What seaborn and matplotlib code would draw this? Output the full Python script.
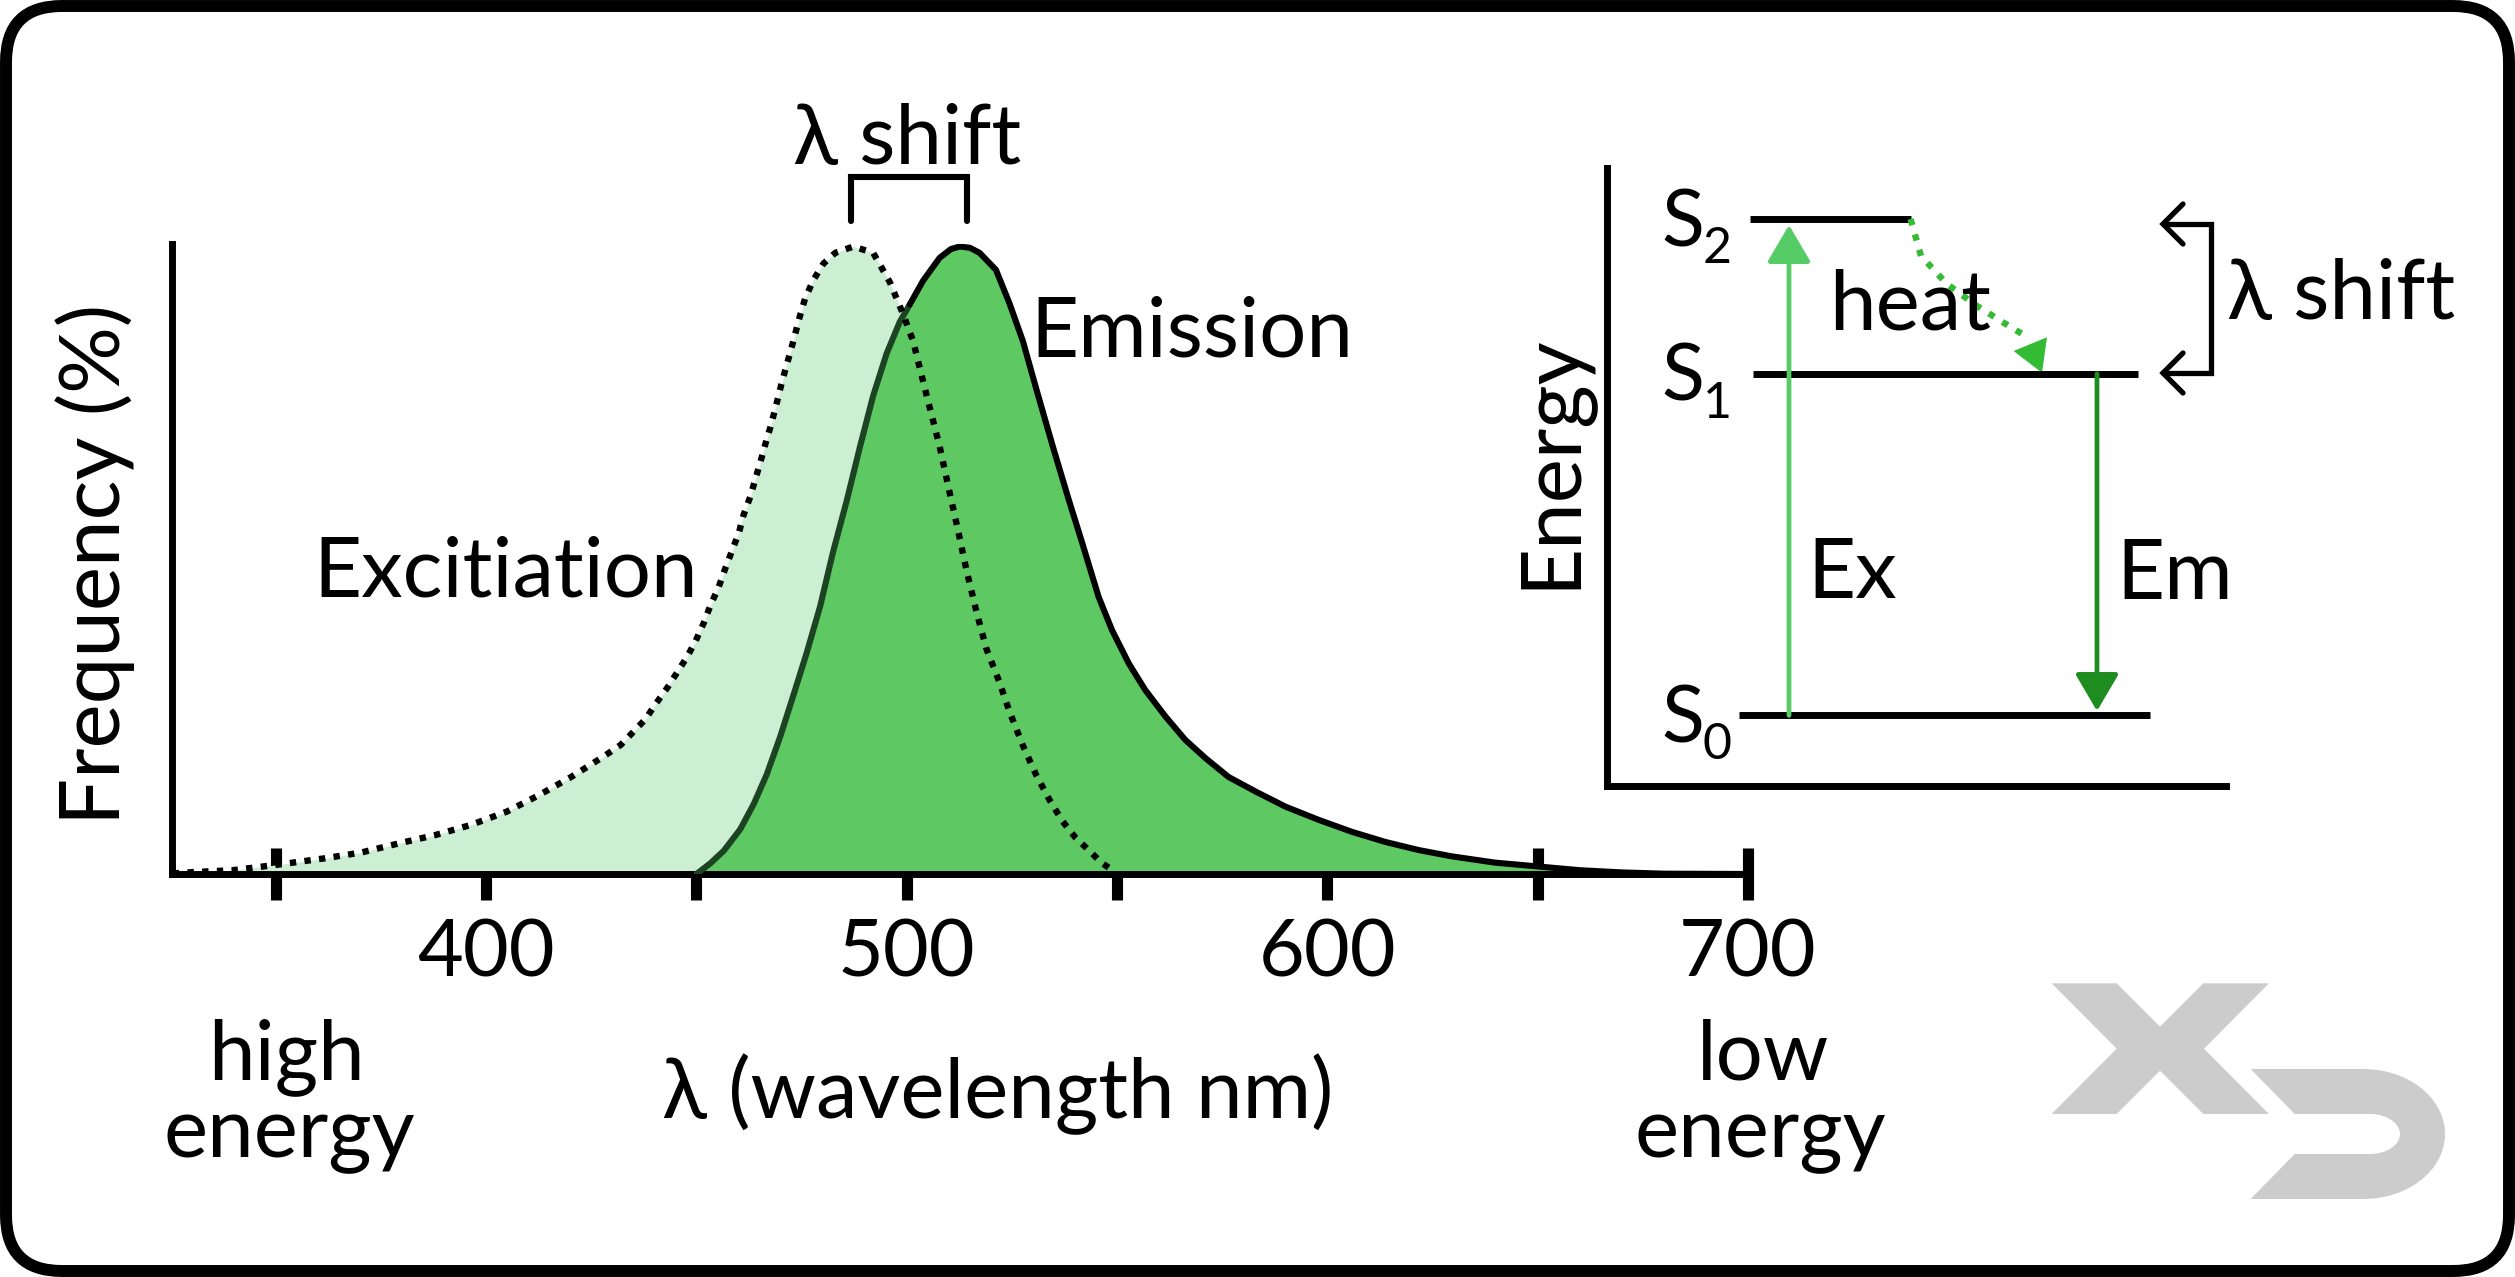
import numpy as np
import pandas as pd
import matplotlib
matplotlib.use("Agg")
import matplotlib.pyplot as plt
import seaborn as sns
from matplotlib.patches import FancyBboxPatch, Polygon, PathPatch
from matplotlib.path import Path

# ---------------- data ----------------
exc_wl = [325.5, 330.3, 339.7, 350.7, 361.7, 370.2, 379.5, 388.0, 396.4, 404.9,
          412.5, 420.2, 427.8, 432.0, 437.9, 440.3, 443.0, 445.4, 447.8, 449.8,
          451.7, 453.3, 455.3, 456.9, 458.5, 460.1, 461.2, 462.8, 464.0, 465.2,
          466.4, 467.6, 468.8, 469.9, 471.1, 472.3, 473.5, 474.6, 475.8, 477.8,
          480.2, 483.0, 487.3, 492.0, 496.0, 499.1, 501.5, 503.5, 505.5, 507.8,
          510.2, 512.2, 514.1, 516.5, 518.9, 522.0, 524.4, 527.6, 530.7, 533.9,
          537.0, 540.2, 543.4, 546.1, 548.0]
exc_freq = [0.1, 0.3, 0.6, 1.5, 2.5, 3.4, 4.9, 6.2, 7.8, 9.9,
            12.5, 15.4, 18.6, 20.5, 24.6, 27.0, 29.5, 32.0, 34.5, 37.0,
            39.8, 42.6, 45.6, 48.6, 51.4, 54.2, 57.0, 59.9, 62.7, 65.4,
            68.3, 71.0, 74.0, 77.0, 80.0, 82.8, 85.8, 88.6, 91.3, 94.3,
            96.9, 98.6, 99.6, 98.6, 93.9, 88.9, 84.6, 79.2, 73.9, 67.9,
            60.5, 54.5, 48.5, 41.8, 35.8, 30.5, 25.8, 20.4, 15.8, 11.8,
            8.4, 5.7, 3.7, 1.9, 1.0]

em_wl = [450.0, 453.3, 456.5, 460.4, 463.6, 466.7, 469.9, 473.1, 476.2, 479.4,
         482.5, 485.7, 488.9, 492.0, 495.2, 498.3, 500.7, 503.9, 507.8, 510.5,
         512.6, 515.0, 517.3, 521.2, 524.4, 527.6, 530.7, 534.7, 538.6, 541.5,
         545.6, 548.8, 552.8, 556.7, 561.5, 566.2, 571.0, 576.5, 582.9, 590.0,
         597.9, 605.8, 613.7, 621.7, 629.6, 639.9, 650.0, 660.0, 670.0, 680.0, 700.0]
em_freq = [0.0, 1.7, 3.7, 7.1, 11.1, 15.8, 21.8, 28.5, 35.1, 42.5,
           51.2, 59.2, 67.9, 75.9, 82.6, 87.6, 90.4, 94.2, 97.8, 99.2,
           99.6, 99.4, 98.6, 95.9, 90.6, 84.6, 77.2, 67.9, 59.2, 53.0,
           44.0, 38.7, 33.4, 29.2, 25.0, 21.3, 18.4, 15.4, 13.1, 10.7,
           8.6, 6.7, 5.1, 3.8, 2.8, 1.8, 1.2, 0.6, 0.25, 0.05, 0.0]

tick_values = [350, 400, 450, 500, 550, 600, 650, 700]
tick_labels = ["", "400", "", "500", "", "600", "", "700"]

exc_peak = 487.3
em_peak = 513.0

# Jablonski diagram (inset, pixel-like units)
level_names = ["0", "1", "2"]
level_energy = [70.6, 412.3, 567.0]
level_start = [132, 146, 143]
level_end = [543, 531, 304]
ex_arrow = [182, 70.6, 561.0]      # x, from, to
em_arrow = [490, 412.3, 75.0]
heat_x = [303.6, 314, 340, 370, 403.6, 421.8]
heat_y = [567.0, 530, 502, 480, 459, 448]
heat_head = [[406.6, 435.0], [440.0, 448.7], [435.0, 413.2]]

# ---------------- style ----------------
sns.set_theme(style="white")
plt.rcParams["font.family"] = ["Lato", "DejaVu Sans"]
plt.rcParams["text.color"] = "black"
plt.rcParams["axes.labelcolor"] = "black"
plt.rcParams["xtick.color"] = "black"
plt.rcParams["ytick.color"] = "black"
FS = 60
TFS = 57
LW = 4.4
W, H = 2515, 1277
fig = plt.figure(figsize=(W / 100, H / 100), dpi=100)
fig.patch.set_facecolor("white")

# background / frame / logo in pixel coordinates
bg = fig.add_axes([0, 0, 1, 1], zorder=0)
bg.set_xlim(0, W)
bg.set_ylim(H, 0)
bg.axis("off")
bg.add_patch(FancyBboxPatch((6, 6), W - 12, H - 12,
                            boxstyle="round,pad=0,rounding_size=56",
                            lw=8.6, ec="black", fc="white"))
x_logo = [(2051.7, 983.3), (2116.7, 983.3), (2160, 1026.7), (2203.3, 983.3),
          (2269, 983.3), (2204, 1048.7), (2269, 1114), (2203.3, 1114),
          (2160, 1070.7), (2116.7, 1114), (2051.7, 1114), (2116.7, 1048.7)]
bg.add_patch(Polygon(x_logo, closed=True, fc="#cccccc", ec="none"))
k = 0.5523
verts = [(2250.7, 1069), (2363.3, 1069),
         (2363.3 + k * 82, 1069), (2445, 1134 - k * 65), (2445, 1134),
         (2445, 1134 + k * 65), (2363.3 + k * 82, 1199), (2363.3, 1199),
         (2250.7, 1199), (2294.7, 1154), (2370, 1154),
         (2370 + k * 30, 1154), (2400, 1134 + k * 20), (2400, 1134),
         (2400, 1134 - k * 20), (2370 + k * 30, 1114), (2370, 1114),
         (2294.7, 1114), (2250.7, 1069)]
codes = [Path.MOVETO, Path.LINETO,
         Path.CURVE4, Path.CURVE4, Path.CURVE4,
         Path.CURVE4, Path.CURVE4, Path.CURVE4,
         Path.LINETO, Path.LINETO, Path.LINETO,
         Path.CURVE4, Path.CURVE4, Path.CURVE4,
         Path.CURVE4, Path.CURVE4, Path.CURVE4,
         Path.LINETO, Path.CLOSEPOLY]
bg.add_patch(PathPatch(Path(verts, codes), fc="#cccccc", ec="none"))

# ---------------- main spectrum axes ----------------
ax = fig.add_axes([172 / W, 1 - 874 / H, 1576 / W, 630 / H], zorder=1)
ax.patch.set_alpha(0)
exc = pd.DataFrame({"wl": exc_wl, "freq": exc_freq})
em = pd.DataFrame({"wl": em_wl, "freq": em_freq})

ax.fill_between(exc["wl"], exc["freq"], color="#cceed3", lw=0, zorder=1)
ax.fill_between(em["wl"], em["freq"], color="#5ec962", lw=0, zorder=2)
sns.lineplot(data=em[em["wl"] <= 500.7], x="wl", y="freq", color="#1c4423",
             lw=LW, ax=ax, zorder=3, solid_capstyle="round")
sns.lineplot(data=em[em["wl"] >= 500.7], x="wl", y="freq", color="black",
             lw=LW, ax=ax, zorder=3, solid_capstyle="round")
sns.lineplot(data=exc, x="wl", y="freq", color="black", lw=4.6,
             linestyle=(0, (1, 1.3)), ax=ax, zorder=4)

ax.set_xlim(325.3, 700)
ax.set_ylim(0, 100)
sns.despine(ax=ax)
for s in ["left", "bottom"]:
    ax.spines[s].set_linewidth(5.0)
    ax.spines[s].set_color("black")
ax.set_xticks(tick_values, tick_labels)
ax.set_yticks([])
ax.tick_params(axis="x", bottom=True, direction="inout", length=38, width=8.0,
               color="black", pad=13, labelsize=TFS, labelcolor="black")

ax.set_xlabel("λ (wavelength nm)", fontsize=FS, color="black", va="baseline")
ax.xaxis.set_label_coords((998 - 172) / 1576, (874 - 1118) / 630)
ax.set_ylabel("Frequency (%)", fontsize=FS, color="black", va="center")
ax.yaxis.set_label_coords((95 - 172) / 1576, (874 - 564) / 630)

ax.text(450.3, 44.0, "Excitiation", ha="right", va="baseline", fontsize=FS)
ax.text(529.5, 82.2, "Emission", ha="left", va="baseline", fontsize=FS)
ax.text((exc_peak + em_peak) / 2, 112.7, "λ shift", ha="center", va="baseline",
        fontsize=FS, clip_on=False)
ax.plot([486.7, 486.7, 514.2, 514.2], [103.6, 110.6, 110.6, 103.6], color="black",
        lw=LW, clip_on=False, solid_joinstyle="miter")

for txt, xc, yb in [("high", 287, 1079), ("energy", 289, 1157),
                    ("low", 1763, 1079), ("energy", 1760, 1157)]:
    ax.text((xc - 172) / 1576, (874 - yb) / 630, txt, transform=ax.transAxes,
            ha="center", va="baseline", fontsize=FS)

# ---------------- inset: energy diagram ----------------
ax2 = fig.add_axes([1607 / W, 1 - 786 / H, 619 / W, 618 / H], zorder=1)
ax2.patch.set_alpha(0)
ax2.set_xlim(0, 619)
ax2.set_ylim(0, 618)
sns.despine(ax=ax2)
for s in ["left", "bottom"]:
    ax2.spines[s].set_linewidth(5.0)
    ax2.spines[s].set_color("black")
ax2.set_xticks([])
ax2.set_yticks([])
ax2.set_ylabel("Energy", fontsize=FS, color="black", va="center")
ax2.yaxis.set_label_coords(-55 / 619, 325 / 618)

ax2.hlines(level_energy, level_start, level_end, color="black", lw=5.0)
for name, e in zip(level_names, level_energy):
    ax2.text(54, e - 27, "S", fontsize=57, ha="left", va="baseline")
    ax2.text(96, e - 44, name, fontsize=36, ha="left", va="baseline")

ax2.annotate("", xy=(ex_arrow[0], ex_arrow[2]), xytext=(ex_arrow[0], ex_arrow[1]),
             arrowprops=dict(arrowstyle="-|>,head_length=23,head_width=13.5",
                             mutation_scale=1, lw=3.4, color="#55cc66",
                             shrinkA=0, shrinkB=0))
ax2.annotate("", xy=(em_arrow[0], em_arrow[2]), xytext=(em_arrow[0], em_arrow[1]),
             arrowprops=dict(arrowstyle="-|>,head_length=23,head_width=13.5",
                             mutation_scale=1, lw=3.4, color="#1e8c1e",
                             shrinkA=0, shrinkB=0))
ax2.plot(heat_x, heat_y, color="#33bb33", lw=4.6, linestyle=(0, (1, 1.5)))
ax2.add_patch(Polygon(heat_head, closed=True, fc="#33bb33", ec="none"))

# lambda shift bracket with open arrowheads
ax2.plot([556, 603.6, 603.6, 556], [562, 562, 413, 413], color="black", lw=3.8,
         clip_on=False, solid_joinstyle="miter")
for yt in [562, 413]:
    ax2.plot([576, 556, 576], [yt + 20, yt, yt - 20], color="black", lw=3.8,
             clip_on=False, solid_joinstyle="miter")

ax2.text(222, 456.5, "heat", fontsize=FS, ha="left", va="baseline")
ax2.text(200.6, 188.5, "Ex", fontsize=FS, ha="left", va="baseline")
ax2.text(509.7, 187, "Em", fontsize=FS, ha="left", va="baseline")
ax2.text(620, 467, "λ shift", fontsize=FS, ha="left", va="baseline", clip_on=False)

fig.savefig("out.png", dpi=100, facecolor="white")
